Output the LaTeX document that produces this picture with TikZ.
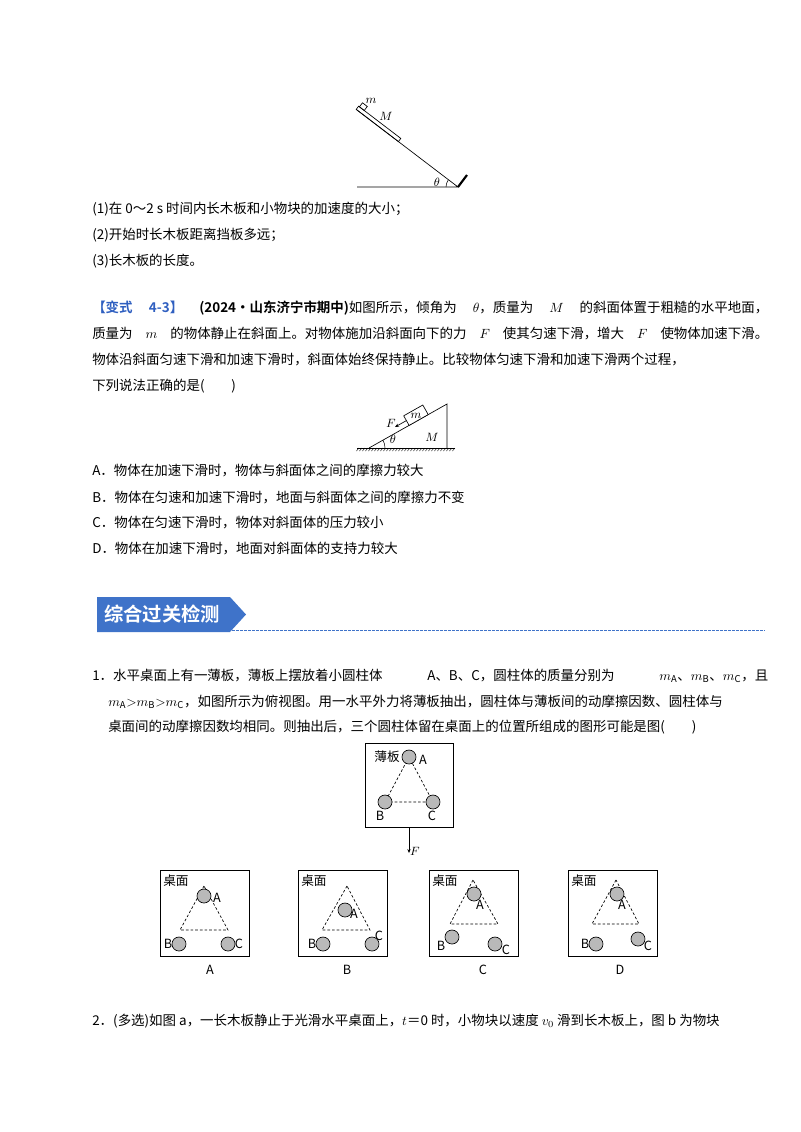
\documentclass[tikz,border=0pt]{standalone}
\usepackage{fontspec}
\setmainfont{Noto Sans CJK SC}[BoldFont={Noto Sans CJK SC Bold}]
\XeTeXlinebreaklocale "zh"
\XeTeXlinebreakskip=0pt plus 2pt
\usetikzlibrary{arrows.meta}
\definecolor{banner}{HTML}{3F73C9}
\definecolor{vblue}{HTML}{2F5FC0}
\newcommand{\jline}[2]{\makebox[#1][s]{#2}}
\begin{document}
\begin{tikzpicture}[x=0.75pt,y=-0.75pt,
  txt/.style={anchor=west,inner sep=0pt,font=\fontsize{10.1}{12}\selectfont},
  lab/.style={inner sep=0pt,font=\fontsize{9.5}{10}\selectfont},
  cyl/.style={circle,draw,fill=gray!55,minimum size=10.5pt,inner sep=0pt,line width=0.5pt},
  box/.style={draw,line width=0.6pt},
  dl/.style={dashed,line width=0.5pt,dash pattern=on 2pt off 1.5pt}]
\useasboundingbox (0,0) rectangle (800,1132);
% ---- figure 1
\coordinate (P) at (458,187);
\coordinate (G0) at (357,187);
\coordinate (S1) at (356.2,109.4);
\draw[line width=0.5pt] (G0) -- (P) -- (S1);
\draw[line width=0.5pt] (398.4,141.6) -- (356.2,109.4) -- (358.6,106.2) -- (400.8,138.4) -- cycle;
\draw[line width=0.5pt] (364.2,110.5) -- (359.4,106.8) -- (362.5,102.8) -- (367.3,106.5) -- cycle;
\node[lab] (lm1) at (371,101) {$m$};
\node[lab] (lM1) at (386,116) {$M$};
\draw[line width=0.4pt] (446,187) arc[start angle=180,end angle=217,radius=12];
\node[lab] (lt1) at (437,182) {$\theta$};
\coordinate (W) at (467,175);
\draw[line width=1.6pt] (P) -- (W);
% ---- text 1
\node[txt] (t1) at (92,209) {(1)在 0～2 s 时间内长木板和小物块的加速度的大小；};
\node[txt] (t2) at (92,235) {(2)开始时长木板距离挡板多远；};
\node[txt] (t3) at (92,261) {(3)长木板的长度。};
\node[txt] (t4) at (92,308) {\jline{507pt}{\textcolor{vblue}{\textbf{【变式 4-3】}}\ \textbf{(2024·山东济宁市期中)}如图所示，倾角为 $\theta$，质量为 $M$ 的斜面体置于粗糙的水平地面，}};
\node[txt] (t5) at (92,334) {\jline{507pt}{质量为 $m$ 的物体静止在斜面上。对物体施加沿斜面向下的力 $F$ 使其匀速下滑，增大 $F$ 使物体加速下滑。}};
\node[txt] (t6) at (92,360) {物体沿斜面匀速下滑和加速下滑时，斜面体始终保持静止。比较物体匀速下滑和加速下滑两个过程，};
\node[txt] (t7) at (92,386) {下列说法正确的是(\qquad)};
% ---- figure 2
\coordinate (L) at (369,448);
\coordinate (T) at (447,404);
\coordinate (R) at (447,448);
\coordinate (g1) at (357,448);
\coordinate (g2) at (455,448);
\draw[line width=0.5pt] (L) -- (T) -- (R);
\draw[line width=0.6pt] (g1) -- (g2);
\foreach \x in {359,362,...,455} \draw[line width=0.3pt] (\x,448) -- (\x-2.5,451);
\draw[line width=0.5pt,fill=white] (409.1,425.4) -- (428.2,414.6) -- (422.8,405.0) -- (403.7,415.8) -- cycle;
\node[lab] (lm2) at (416,415.5) {$m$};
\coordinate (Fa) at (406.4,420.6);
\coordinate (Fb) at (395,427);
\draw[line width=0.5pt,-{Stealth[length=3pt,width=2.5pt]}] (Fa) -- (Fb);
\node[lab,anchor=east] (lF) at (396,423) {$F$};
\draw[line width=0.4pt] (385,448) arc[start angle=0,end angle=-29.4,radius=16];
\node[lab] (lt2) at (393,439) {$\theta$};
\node[lab] (lM2) at (432,437) {$M$};
% ---- options
\node[txt] (oA) at (92,471) {A．物体在加速下滑时，物体与斜面体之间的摩擦力较大};
\node[txt] (oB) at (92,497) {B．物体在匀速和加速下滑时，地面与斜面体之间的摩擦力不变};
\node[txt] (oC) at (92,523) {C．物体在匀速下滑时，物体对斜面体的压力较小};
\node[txt] (oD) at (92,549) {D．物体在加速下滑时，地面对斜面体的支持力较大};
% ---- banner
\fill[banner] (97,597) -- (230,597) -- (246,614.5) -- (230,632) -- (97,632) -- cycle;
\node[inner sep=0pt,text=white,font=\fontsize{14.5}{16}\selectfont\bfseries] (bt) at (162,614.5) {综合过关检测};
\draw[banner,line width=0.7pt,dash pattern=on 2pt off 1pt] (232,630.5) -- (765,630.5);
% ---- question 1
\node[txt] (q1) at (92,676) {\jline{507pt}{1．水平桌面上有一薄板，薄板上摆放着小圆柱体 A、B、C，圆柱体的质量分别为 $m_{\mathrm{A}}$、$m_{\mathrm{B}}$、$m_{\mathrm{C}}$，且}};
\node[txt] (q2) at (108,702) {\jline{495pt}{$m_{\mathrm{A}}{>}m_{\mathrm{B}}{>}m_{\mathrm{C}}$，如图所示为俯视图。用一水平外力将薄板抽出，圆柱体与薄板间的动摩擦因数、圆柱体与}};
\node[txt] (q3) at (108,727) {桌面间的动摩擦因数均相同。则抽出后，三个圆柱体留在桌面上的位置所组成的图形可能是图(\qquad)};
% top box
\draw[box] (365,743) rectangle (453,827);
\node[lab] (bo) at (387,757) {薄板};
\draw[dl] (409,757) -- (385,802) -- (433,802) -- cycle;
\node[cyl] (cA) at (409,757) {};
\node[cyl] (cB) at (385,802) {};
\node[cyl] (cC) at (433,802) {};
\node[lab] (lA) at (423,760) {A};
\node[lab] (lB) at (380,816) {B};
\node[lab] (lC) at (432,816) {C};
\coordinate (Ft) at (409,827);
\coordinate (Fe) at (409,853);
\draw[line width=0.4pt,-{Stealth[length=3pt,width=2.5pt]}] (Ft) -- (Fe);
\node[lab] (lFF) at (415,851) {$F$};
% box A
\draw[box] (160,870) rectangle (249,956);
\node[lab,anchor=west] at (163,881) {桌面};
\draw[dl] (204,886) -- (180,930) -- (228,930) -- cycle;
\node[cyl] at (204,896) {}; \node[lab] at (217,898) {A};
\node[cyl] at (179,944) {}; \node[lab] at (168,944) {B};
\node[cyl] at (228,944) {}; \node[lab] at (239,944) {C};
\node[lab] at (210,970) {A};
% box B
\draw[box] (298,870) rectangle (387,956);
\node[lab,anchor=west] at (301,881) {桌面};
\draw[dl] (347,886) -- (322,930) -- (370,930) -- cycle;
\node[cyl] at (345,910) {}; \node[lab] at (354,914) {A};
\node[cyl] at (323,944) {}; \node[lab] at (312,944) {B};
\node[cyl] at (372,944) {}; \node[lab] at (379,936) {C};
\node[lab] at (347,970) {B};
% box C
\draw[box] (429,870) rectangle (518,956);
\node[lab,anchor=west] at (432,881) {桌面};
\draw[dl] (473,880) -- (450,924) -- (498,924) -- cycle;
\node[cyl] at (474,894) {}; \node[lab] at (480,905) {A};
\node[cyl] at (452,937) {}; \node[lab] at (441,946) {B};
\node[cyl] at (495,944) {}; \node[lab] at (506,950) {C};
\node[lab] at (483,970) {C};
% box D
\draw[box] (568,870) rectangle (657,956);
\node[lab,anchor=west] at (571,881) {桌面};
\draw[dl] (616,880) -- (592,924) -- (639,924) -- cycle;
\node[cyl] at (617,894) {}; \node[lab] at (622,905) {A};
\node[cyl] at (596,944) {}; \node[lab] at (585,944) {B};
\node[cyl] at (638,939) {}; \node[lab] at (648,946) {C};
\node[lab] at (620,970) {D};
% question 2
\node[txt] (q4) at (92,1021) {2．(多选)如图 a，一长木板静止于光滑水平桌面上，$t$＝0 时，小物块以速度 $v_0$ 滑到长木板上，图 b 为物块};
\end{tikzpicture}
\end{document}
